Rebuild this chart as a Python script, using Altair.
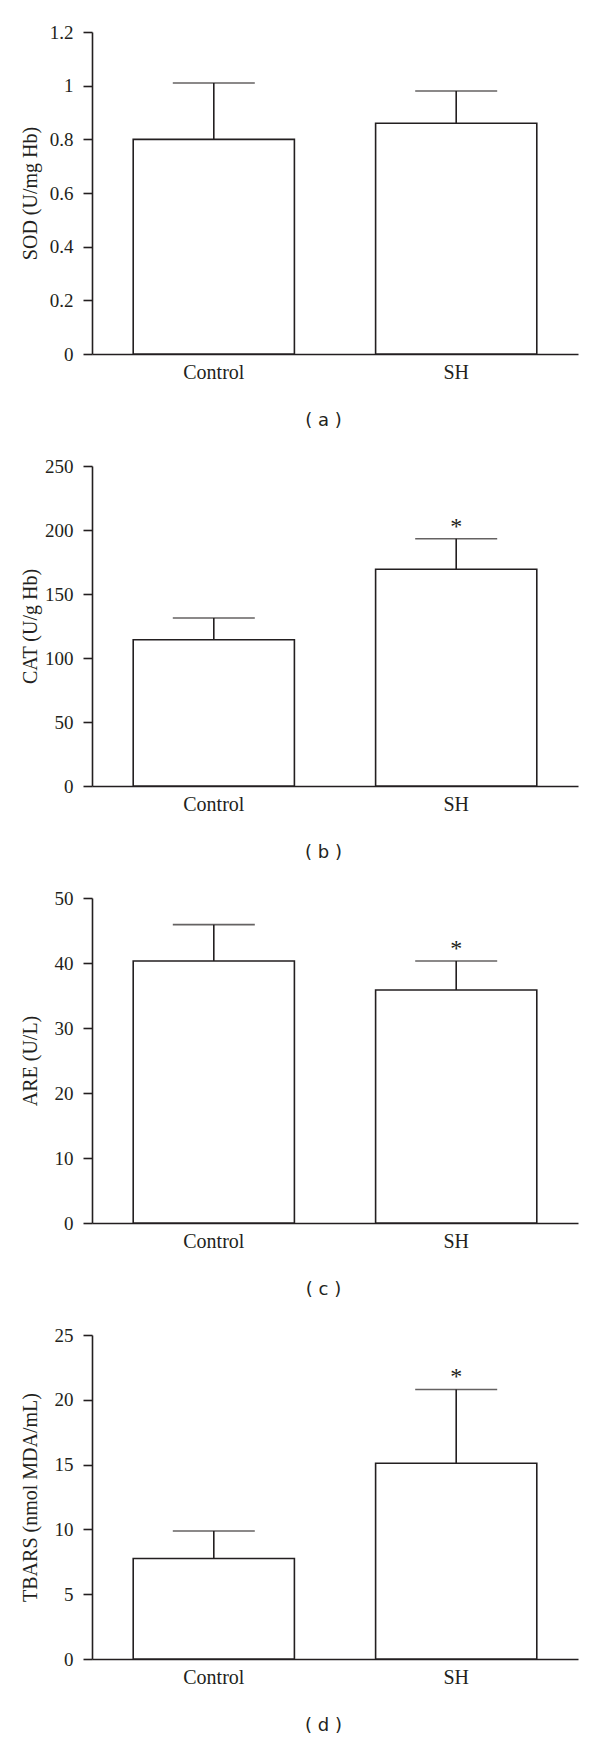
import altair as alt
import pandas as pd

groups = ["Control", "SH"]

sod_mean = [0.80, 0.86]
sod_top = [1.01, 0.98]
cat_mean = [114.3, 169.3]
cat_top = [131.2, 193.2]
are_mean = [40.3, 35.85]
are_top = [45.9, 40.3]
tbars_mean = [7.75, 15.1]
tbars_top = [9.88, 20.8]

sod_star = ["", ""]
cat_star = ["", "*"]
are_star = ["", "*"]
tbars_star = ["", "*"]

sod_ticks = [0, 0.2, 0.4, 0.6, 0.8, 1, 1.2]
cat_ticks = [0, 50, 100, 150, 200, 250]
are_ticks = [0, 10, 20, 30, 40, 50]
tbars_ticks = [0, 5, 10, 15, 20, 25]

INK = "#231f20"
LW = 1.6
SERIF = "Liberation Serif"
SANS = "DejaVu Sans"
W = 486


def panel(means, tops, stars, ticks, ytitle, caption, h):
    df = pd.DataFrame({"group": groups, "mean": means, "top": tops, "star": stars})
    xs = alt.Scale(domain=groups, paddingInner=0.335, paddingOuter=0.17)
    xax = alt.Axis(
        title=caption, labelAngle=0, ticks=False, tickSize=0, domain=True,
        domainColor=INK, domainWidth=LW, labelFont=SERIF, labelFontSize=20,
        labelColor=INK, labelPadding=8, titleFont=SANS, titleFontSize=18,
        titleFontWeight="normal", titleColor=INK, titleX=231, titleY=66,
        titleAlign="center", titleBaseline="middle",
    )
    ys = alt.Scale(domain=[0, ticks[-1]], nice=False, zero=True)
    yax = alt.Axis(
        title=ytitle, values=ticks, labelExpr="'' + datum.value", grid=False,
        tickSize=9, tickColor=INK, tickWidth=LW, domainColor=INK,
        domainWidth=LW, labelFont=SERIF, labelFontSize=19, labelColor=INK,
        labelPadding=10, titleFont=SERIF, titleFontSize=20,
        titleFontWeight="normal", titleColor=INK, titleX=-62, titleY=h / 2,
        titleAngle=270, titleAlign="center", titleBaseline="middle",
    )
    base = alt.Chart(df)
    X = alt.X("group:N", scale=xs, axis=xax)
    bars = base.mark_bar(fill="white", stroke=INK, strokeWidth=LW).encode(
        x=X, y=alt.Y("mean:Q", scale=ys, axis=yax)
    )
    rule = base.mark_rule(color=INK, strokeWidth=LW).encode(
        x=X, y=alt.Y("mean:Q", scale=ys, axis=yax), y2="top:Q"
    )
    cap = base.mark_tick(color=INK, size=82, thickness=LW).encode(
        x=X, y=alt.Y("top:Q", scale=ys, axis=yax)
    )
    star = base.mark_text(
        font=SERIF, fontSize=24, color=INK, baseline="alphabetic", dy=-5
    ).encode(x=X, y=alt.Y("top:Q", scale=ys, axis=yax), text="star:N")
    return alt.layer(bars, rule, cap, star).properties(width=W, height=h)


chart = alt.vconcat(
    panel(sod_mean, sod_top, sod_star, sod_ticks, "SOD (U/mg Hb)", "( a )", 322),
    panel(cat_mean, cat_top, cat_star, cat_ticks, "CAT (U/g Hb)", "( b )", 320),
    panel(are_mean, are_top, are_star, are_ticks, "ARE (U/L)", "( c )", 325),
    panel(tbars_mean, tbars_top, tbars_star, tbars_ticks, "TBARS (nmol MDA/mL)", "( d )", 324),
    spacing=112,
    bounds="flush",
).properties(
    padding={"left": 12, "top": 15, "right": 5, "bottom": 5}
).configure(
    background="white", view=alt.ViewConfig(stroke=None)
)

chart.save("out.html", embed_options={"renderer": "svg", "actions": False})
